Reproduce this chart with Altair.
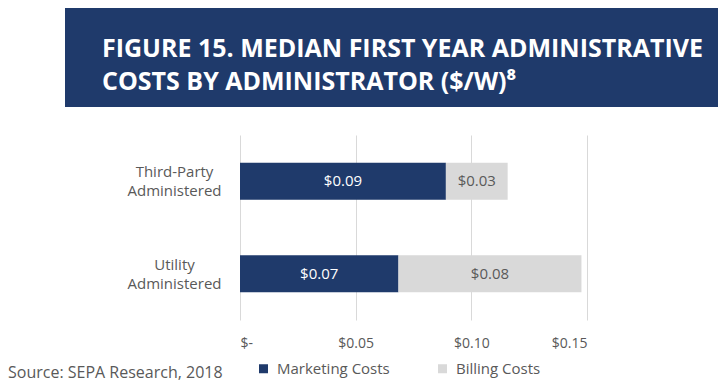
import altair as alt
import pandas as pd

categories = ["Third-Party Administered", "Utility Administered"]
series = ["Marketing Costs", "Billing Costs"]
marketing = [0.089, 0.0685]
billing = [0.0267, 0.0791]
marketing_labels = ["$0.09", "$0.07"]
billing_labels = ["$0.03", "$0.08"]
x_ticks = [0, 0.05, 0.10, 0.15]
title_lines = ["FIGURE 15. MEDIAN FIRST YEAR ADMINISTRATIVE", "COSTS BY ADMINISTRATOR ($/W)⁸"]
source_text = "Source: SEPA Research, 2018"

NAVY = "#1f3a6b"
GRAY = "#d9d9d9"
TEXT = "#595959"
FONT = "Open Sans"

rows = []
for c, m, b, ml, bl in zip(categories, marketing, billing, marketing_labels, billing_labels):
    rows.append({"cat": c, "series": series[0], "start": 0.0, "end": m, "label": ml})
    rows.append({"cat": c, "series": series[1], "start": m, "end": m + b, "label": bl})
df = pd.DataFrame(rows)
df["mid"] = (df["start"] + df["end"]) / 2

y_enc = alt.Y(
    "cat:N",
    sort=categories,
    title=None,
    scale=alt.Scale(paddingInner=0.6, paddingOuter=0.3),
    axis=alt.Axis(
        labelExpr="split(datum.label, ' ')",
        labelAlign="center",
        labelPadding=66,
        labelOffset=-9,
        labelFontSize=15,
        labelColor=TEXT,
        labelFont=FONT,
        labelLineHeight=19,
        ticks=False,
        domain=False,
        grid=False,
    ),
)

x_scale = alt.Scale(domain=[0, 0.15], nice=False, zero=True)

bars = alt.Chart(df).mark_bar().encode(
    x=alt.X(
        "start:Q",
        scale=x_scale,
        title=None,
        axis=alt.Axis(
            values=x_ticks,
            labelExpr="datum.value == 0 ? '$-' : '$' + format(datum.value, '.2f')",
            labelFontSize=14,
            labelColor=TEXT,
            labelFont=FONT,
            labelPadding=16,
            ticks=False,
            domain=False,
            grid=True,
            gridColor="#d9d9d9",
            gridWidth=1,
        ),
    ),
    x2="end:Q",
    y=y_enc,
    color=alt.Color(
        "series:N",
        sort=series,
        scale=alt.Scale(domain=series, range=[NAVY, GRAY]),
        legend=alt.Legend(
            title=None,
            orient="none",
            legendX=16,
            legendY=226,
            direction="horizontal",
            symbolType="square",
            symbolSize=81,
            symbolStrokeWidth=0,
            labelFontSize=15,
            labelFont=FONT,
            labelColor=TEXT,
            labelOffset=6,
            columnPadding=45,
        ),
    ),
)

labels = alt.Chart(df).mark_text(fontSize=15, font=FONT).encode(
    x=alt.X("mid:Q", scale=x_scale),
    y=alt.Y("cat:N", sort=categories),
    text="label:N",
    color=alt.condition(
        alt.datum.series == series[0], alt.value("white"), alt.value(TEXT)
    ),
)

banner = alt.Chart(pd.DataFrame({"a": [1]})).mark_rect(color=NAVY).encode(
    x=alt.value(-175), x2=alt.value(478), y=alt.value(-127), y2=alt.value(-28)
)

title_df = pd.DataFrame({"t": title_lines, "yy": [-78, -45]})
title_text = alt.Chart(title_df).mark_text(
    align="left", baseline="alphabetic", color="white", font=FONT,
    fontWeight="bold", fontSize=25
).encode(x=alt.value(-138), y=alt.Y("yy:Q", scale=None), text="t:N")

source = alt.Chart(pd.DataFrame({"t": [source_text]})).mark_text(
    align="left", baseline="middle", color=TEXT, font=FONT, fontSize=16
).encode(x=alt.value(-232), y=alt.value(238), text="t:N")

chart = alt.layer(banner, bars, labels, title_text, source).properties(
    width=347,
    height=185,
    autosize=alt.AutoSizeParams(type="none"),
    padding={"left": 232, "top": 127, "right": 131, "bottom": 64},
    background="white",
).configure_view(stroke=None)

chart.save("out.html", embed_options={"renderer": "svg", "actions": False})
